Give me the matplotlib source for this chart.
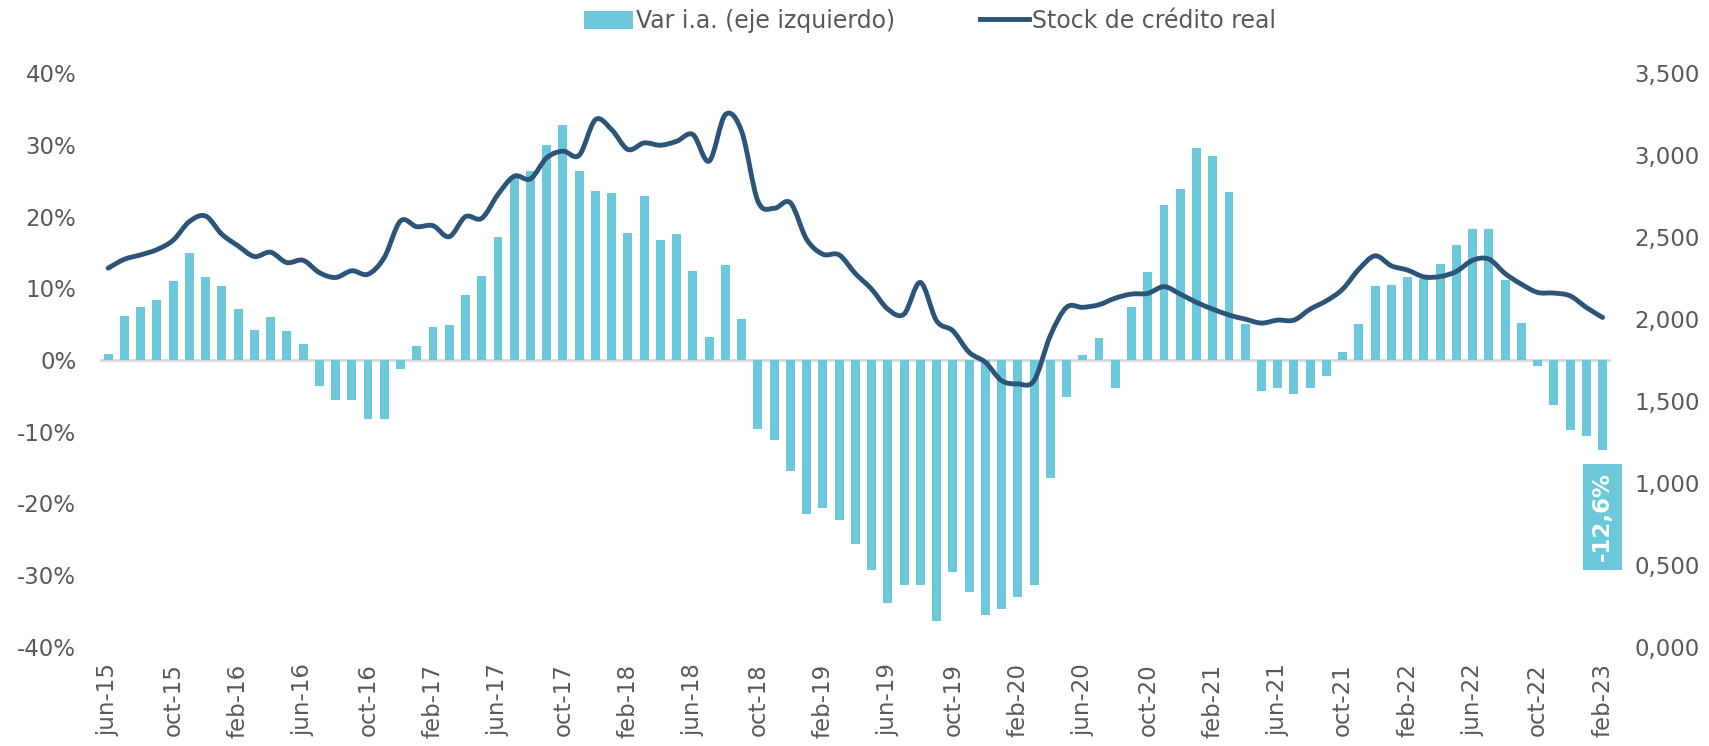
import numpy as np
import matplotlib
matplotlib.use("Agg")
import matplotlib.pyplot as plt
from matplotlib.ticker import FuncFormatter
from matplotlib.path import Path
from matplotlib.patches import PathPatch
from matplotlib.lines import Line2D

# monthly data, jun-15 .. feb-23
months = ["jun", "jul", "ago", "sep", "oct", "nov", "dic", "ene", "feb", "mar", "abr", "may"]
start_year = 15
n = 93

# Var i.a. (%) - eje izquierdo
var_ia = [
    0.8, 6.1, 7.4, 8.4, 11.0, 14.9, 11.6, 10.3, 7.1, 4.2, 6.0, 4.0,
    2.2, -3.7, -5.6, -5.6, -8.3, -8.3, -1.3, 1.9, 4.6, 4.9, 9.0, 11.7,
    17.2, 25.4, 26.3, 30.0, 32.7, 26.4, 23.5, 23.3, 17.7, 22.8, 16.7, 17.5,
    12.4, 3.2, 13.2, 5.7, -9.6, -11.1, -15.5, -21.5, -20.7, -22.3, -25.7, -29.3,
    -33.9, -31.4, -31.4, -36.4, -29.6, -32.4, -35.6, -34.8, -33.1, -31.4, -16.4, -5.2,
    0.7, 3.1, -3.9, 7.4, 12.2, 21.6, 23.8, 29.6, 28.4, 23.4, 5.0, -4.3,
    -3.9, -4.8, -3.9, -2.2, 1.1, 5.0, 10.3, 10.4, 11.6, 11.3, 13.4, 16.0,
    18.2, 18.2, 11.2, 5.2, -0.8, -6.3, -9.7, -10.6, -12.6,
]

# Stock de crédito real - eje derecho
stock = [
    2.310, 2.364, 2.391, 2.423, 2.480, 2.594, 2.628, 2.517, 2.446, 2.381, 2.407, 2.344,
    2.358, 2.283, 2.253, 2.294, 2.273, 2.375, 2.598, 2.563, 2.569, 2.502, 2.624, 2.614,
    2.760, 2.871, 2.855, 2.983, 3.024, 2.999, 3.216, 3.155, 3.034, 3.074, 3.060, 3.084,
    3.125, 2.963, 3.247, 3.145, 2.719, 2.675, 2.709, 2.486, 2.395, 2.391, 2.277, 2.182,
    2.060, 2.030, 2.223, 1.989, 1.928, 1.797, 1.736, 1.624, 1.604, 1.624, 1.898, 2.071,
    2.071, 2.087, 2.127, 2.152, 2.156, 2.197, 2.152, 2.101, 2.060, 2.024, 1.999, 1.975,
    1.993, 1.993, 2.060, 2.111, 2.182, 2.304, 2.385, 2.324, 2.298, 2.257, 2.259, 2.290,
    2.358, 2.365, 2.277, 2.212, 2.162, 2.158, 2.141, 2.070, 2.009,
]

labels = []
for i in range(n):
    m = i % 12
    y = start_year + (i + 5) // 12
    labels.append(f"{months[m]}-{y:02d}")

bar_color = "#6bc9db"
line_color = "#2c5478"
text_color = "#595959"

plt.rcParams["font.family"] = ["DejaVu Sans"]

fig = plt.figure(figsize=(17.09, 7.46), dpi=100)
ax = fig.add_axes([0.0585, 0.133, 0.884, 0.769])
x = np.arange(n)

bars = ax.bar(x, var_ia, width=0.55, color=bar_color, zorder=2,
              label="Var i.a. (eje izquierdo)")
ax.axhline(0, color="#d9d9d9", lw=2, zorder=1)
ax.set_ylim(-40, 40)
ax.set_xlim(-0.5, 92.5)
ax.set_yticks(np.arange(-40, 41, 10))
ax.yaxis.set_major_formatter(FuncFormatter(lambda v, p: f"{v:.0f}%"))

ticks = list(range(0, n, 4))
ax.set_xticks(ticks)
ax.set_xticklabels([labels[i] for i in ticks], rotation=90)

ax2 = ax.twinx()
ax2.set_ylim(0, 3.5)
ax2.set_yticks(np.arange(0, 3.51, 0.5))
ax2.yaxis.set_major_formatter(FuncFormatter(lambda v, p: f"{v:.3f}".replace(".", ",")))

# smoothed line like Excel: bezier segments through the monthly points
pts = np.column_stack([x, stock]).astype(float)
verts = [pts[0]]
codes = [Path.MOVETO]
for i in range(n - 1):
    p0 = pts[max(i - 1, 0)]
    p1 = pts[i]
    p2 = pts[i + 1]
    p3 = pts[min(i + 2, n - 1)]
    c1 = p1 + (p2 - p0) / 6
    c2 = p2 - (p3 - p1) / 6
    verts += [c1, c2, p2]
    codes += [Path.CURVE4] * 3
ax2.add_patch(PathPatch(Path(verts, codes), facecolor="none", edgecolor=line_color,
                        lw=3.5, joinstyle="round", capstyle="round", zorder=3))
ln = Line2D([], [], color=line_color, lw=3.5, label="Stock de crédito real")

for a in (ax, ax2):
    for s in a.spines.values():
        s.set_visible(False)
    a.tick_params(length=0, labelsize=16.5, labelcolor=text_color)
ax.tick_params(axis="y", pad=17)
ax.tick_params(axis="x", pad=12)
ax2.tick_params(axis="y", pad=17)

# label for last value
ax.text(x[-1], -21.9, f"{var_ia[-1]:.1f}%".replace(".", ","), rotation=90,
        ha="center", va="center", color="white", fontsize=16.5, fontweight="bold",
        bbox=dict(boxstyle="square,pad=0.35", facecolor=bar_color, edgecolor="none"),
        zorder=5)

fig.legend(handles=[bars, ln], loc="center", bbox_to_anchor=(0.544, 0.972), ncol=2,
           frameon=False, fontsize=17, labelcolor=text_color, handlelength=2.1,
           handletextpad=0.1, columnspacing=3.6, handleheight=0.8)

fig.savefig("out.png", dpi=100)
